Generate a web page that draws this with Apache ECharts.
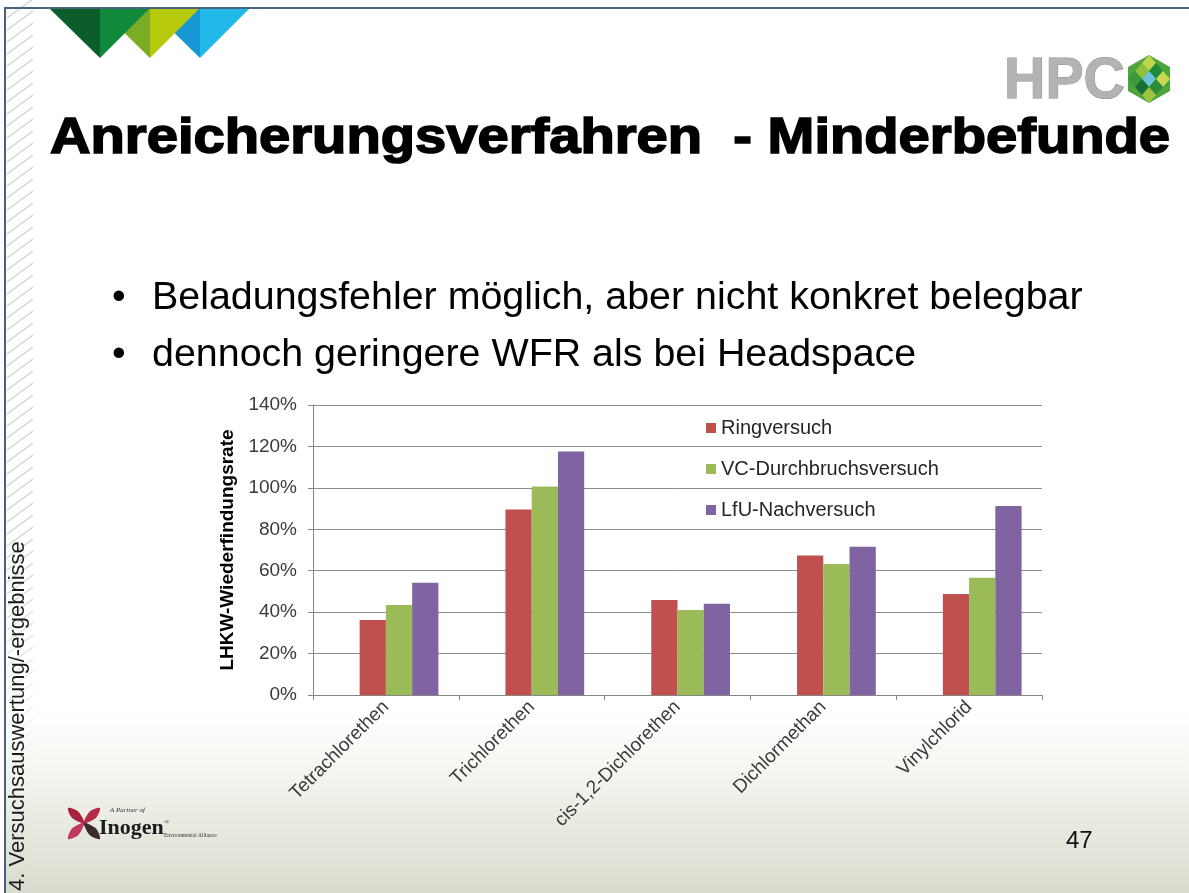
<!DOCTYPE html>
<html>
<head>
<meta charset="utf-8">
<script src="https://cdn.jsdelivr.net/npm/echarts@6/dist/echarts.min.js"></script>
<style>
  html, body { margin: 0; padding: 0; background: #ffffff; }
  #chart { width: 1189px; height: 893px; }
</style>
</head>
<body>
<div id="chart"></div>
<script>
// Substances on the category axis
const categories = ['Tetrachlorethen', 'Trichlorethen', 'cis-1,2-Dichlorethen', 'Dichlormethan', 'Vinylchlorid'];

// Recovery rates in percent, one array per trial
const seriesNames = ['Ringversuch', 'VC-Durchbruchsversuch', 'LfU-Nachversuch'];
const ringversuch = [36.2, 89.6, 45.9, 67.4, 48.8];
const vcDurchbruchsversuch = [43.4, 100.7, 41.0, 63.2, 56.6];
const lfuNachversuch = [54.2, 117.5, 44.1, 71.6, 91.2];

// Value axis ticks
const yTicks = [0, 20, 40, 60, 80, 100, 120, 140];

// Slide texts
const slideTitle = 'Anreicherungsverfahren  - Minderbefunde';
const bullets = [
  'Beladungsfehler möglich, aber nicht konkret belegbar',
  'dennoch geringere WFR als bei Headspace'
];
const sectionLabel = '4. Versuchsauswertung/-ergebnisse';
const pageNumber = '47';

const SANS = '"Liberation Sans", Arial, sans-serif';
const barColors = ['#C0504D', '#9BBB59', '#8064A2'];

const measureCtx = document.createElement('canvas').getContext('2d');
function textWidth(str, font) {
  measureCtx.font = font;
  return measureCtx.measureText(str).width;
}

const graphics = [];

// Soft gradient at the foot of the slide
graphics.push({
  type: 'rect', z: -5, silent: true,
  shape: { x: 6, y: 710, width: 1183, height: 183 },
  style: {
    fill: new echarts.graphic.LinearGradient(0, 0, 0, 1, [
      { offset: 0, color: '#ffffff' },
      { offset: 0.3, color: '#f6f7f2' },
      { offset: 1, color: '#d8dccd' }
    ])
  }
});

// Hatched strip along the left border
for (let y = 18; y <= 905; y += 12) {
  const fade = y < 560 ? 1 : Math.max(0.15, 1 - (y - 560) / 260);
  graphics.push({
    type: 'line', z: -4, silent: true,
    shape: { x1: 7, y1: y, x2: 33, y2: y - 19 },
    style: { stroke: '#d2d2d2', lineWidth: 1.3, opacity: fade }
  });
}

// Slide frame lines
graphics.push({
  type: 'line', z: 5, silent: true,
  shape: { x1: 4, y1: 8, x2: 1189, y2: 8 },
  style: { stroke: '#46627d', lineWidth: 2 }
});
graphics.push({
  type: 'line', z: 5, silent: true,
  shape: { x1: 5, y1: 7, x2: 5, y2: 893 },
  style: { stroke: '#46627d', lineWidth: 2 }
});

// Coloured triangles at the top (each split into a dark and a light half)
const triangles = [
  { cx: 200, dark: '#1696d2', light: '#23b8ea' },
  { cx: 150, dark: '#7aac24', light: '#b7c90d' },
  { cx: 100, dark: '#0b5d29', light: '#0f893a' }
];
triangles.forEach(t => {
  graphics.push({
    type: 'polygon', z: 3, silent: true,
    shape: { points: [[t.cx - 50, 9], [t.cx, 9], [t.cx, 58]] },
    style: { fill: t.dark }
  });
  graphics.push({
    type: 'polygon', z: 3, silent: true,
    shape: { points: [[t.cx, 9], [t.cx + 49, 9], [t.cx, 58]] },
    style: { fill: t.light }
  });
});

// HPC logo: lettering
const hpcFont = 'bold 58px "Liberation Sans"';
const hpcScale = 121 / textWidth('HPC', hpcFont);
graphics.push({
  type: 'text', z: 4, silent: true,
  x: 1004, y: 82, scaleX: hpcScale,
  style: {
    text: 'HPC', font: hpcFont,
    verticalAlign: 'middle', align: 'left',
    fill: '#b3b3b3',
    stroke: '#8f8f8f', lineWidth: 1
  }
});
// HPC logo: tiled hexagon
(function () {
  const cx = 1149, cy = 79, hw = 7, hh = 8;
  graphics.push({
    type: 'polygon', z: 4, silent: true,
    shape: { points: [[cx, cy - 24], [cx + 21, cy - 12], [cx + 21, cy + 12], [cx, cy + 24], [cx - 21, cy + 12], [cx - 21, cy - 12]] },
    style: { fill: '#4ea53c' }
  });
  const tiles = [
    [-1, -1, '#bdd64c'], [-1, 0, '#8fc13d'], [0, -1, '#1f8a3c'],
    [1, -1, '#c8da52'], [-1, 1, '#3a9a3a'], [0, 0, '#6cc4dc'],
    [1, 0, '#2e8b3a'], [0, 1, '#1a6e33'], [1, 1, '#9cc43f']
  ];
  tiles.forEach(([a, b, col]) => {
    const x = cx + (a - b) * hw, y = cy + (a + b) * hh;
    graphics.push({
      type: 'polygon', z: 4, silent: true,
      shape: { points: [[x, y - hh], [x + hw, y], [x, y + hh], [x - hw, y]] },
      style: { fill: col }
    });
  });
})();

// Slide title
const titleFont = 'bold 50px "Liberation Sans"';
const titleScale = 1120 / textWidth(slideTitle, titleFont);
graphics.push({
  type: 'text', z: 4, silent: true,
  x: 50, y: 139, scaleX: titleScale,
  style: {
    text: slideTitle, font: titleFont,
    verticalAlign: 'middle', align: 'left',
    fill: '#000000', stroke: '#000000', lineWidth: 1.6
  }
});

// Bullet points
const bulletY = [298, 355];
bullets.forEach((b, i) => {
  graphics.push({
    type: 'text', z: 4, silent: true, x: 112, y: bulletY[i],
    style: { text: '•', font: '39px "Liberation Sans"', verticalAlign: 'middle', fill: '#000000' }
  });
  graphics.push({
    type: 'text', z: 4, silent: true, x: 152, y: bulletY[i],
    style: { text: b, font: '39.4px "Liberation Sans"', verticalAlign: 'middle', fill: '#000000' }
  });
});

// Vertical section label on the left
graphics.push({
  type: 'text', z: 4, silent: true, x: 18, y: 891, rotation: Math.PI / 2,
  style: { text: sectionLabel, font: '22px "Liberation Sans"', align: 'left', verticalAlign: 'middle', fill: '#1a1a1a' }
});

// Page number
graphics.push({
  type: 'text', z: 4, silent: true, x: 1066, y: 841,
  style: { text: pageNumber, font: '24px "Liberation Sans"', align: 'left', verticalAlign: 'middle', fill: '#111111' }
});

// Partner logo: X mark and lettering
(function () {
  const c = [84, 823];
  const petals = [
    { tip: [68, 808], col: '#a8213f' },
    { tip: [100, 808], col: '#b42c4c' },
    { tip: [68, 839], col: '#c23a5c' },
    { tip: [100, 839], col: '#3b2b31' }
  ];
  petals.forEach(p => {
    const dx = p.tip[0] - c[0], dy = p.tip[1] - c[1];
    const len = Math.hypot(dx, dy);
    const nx = -dy / len * 4.5, ny = dx / len * 4.5;
    const mx = c[0] + dx * 0.55, my = c[1] + dy * 0.55;
    graphics.push({
      type: 'polygon', z: 4, silent: true,
      shape: { points: [c, [mx + nx, my + ny], p.tip, [mx - nx, my - ny]], smooth: 0.3 },
      style: { fill: p.col }
    });
  });
  graphics.push({
    type: 'text', z: 4, silent: true, x: 99, y: 839,
    style: { text: 'Inogen', font: 'bold 22px "Liberation Serif"', verticalAlign: 'bottom', fill: '#1c1c1c' }
  });
  graphics.push({
    type: 'text', z: 4, silent: true, x: 110, y: 814,
    style: { text: 'A Partner of', font: 'italic 7px "Liberation Serif"', verticalAlign: 'bottom', fill: '#333333' }
  });
  graphics.push({
    type: 'text', z: 4, silent: true, x: 164, y: 826,
    style: { text: '®', font: '7px "Liberation Serif"', verticalAlign: 'bottom', fill: '#333333' }
  });
  graphics.push({
    type: 'text', z: 4, silent: true, x: 164, y: 839,
    style: { text: 'Environmental Alliance', font: '5.5px "Liberation Serif"', verticalAlign: 'bottom', fill: '#333333' }
  });
})();

const seriesData = [ringversuch, vcDurchbruchsversuch, lfuNachversuch];

// The workbook has an empty first series slot; it keeps the
// three visible bars shifted right inside each category.
const barSeries = [{
  name: '',
  type: 'bar',
  data: [],
  barGap: '0%',
  barCategoryGap: '28%'
}].concat(seriesNames.map((name, i) => ({
  name: name,
  type: 'bar',
  data: seriesData[i],
  barGap: '0%',
  barCategoryGap: '28%',
  itemStyle: { color: barColors[i] }
})));

const chart = echarts.init(document.getElementById('chart'), null, { renderer: 'canvas' });
chart.setOption({
  animation: false,
  backgroundColor: 'transparent',
  color: ['#ffffff'].concat(barColors),
  textStyle: { fontFamily: SANS },
  graphic: { elements: graphics },
  grid: { left: 313, right: 147, top: 405, bottom: 198, containLabel: false },
  legend: {
    data: seriesNames,
    orient: 'vertical',
    left: 701, top: 413,
    icon: 'rect',
    itemWidth: 10, itemHeight: 10, itemGap: 21,
    textStyle: { fontFamily: SANS, fontSize: 20, lineHeight: 20, color: '#262626' }
  },
  xAxis: {
    type: 'category',
    data: categories,
    axisLine: { lineStyle: { color: '#868686', width: 1 } },
    axisTick: { show: true, length: 5, lineStyle: { color: '#868686' } },
    axisLabel: { rotate: 45, fontSize: 19, color: '#3a3a3a', fontFamily: SANS, margin: 9, interval: 0 }
  },
  yAxis: {
    type: 'value',
    min: yTicks[0], max: yTicks[yTicks.length - 1], interval: yTicks[1] - yTicks[0],
    name: 'LHKW-Wiederfindungsrate',
    nameLocation: 'middle', nameGap: 72,
    nameTextStyle: { fontFamily: SANS, fontSize: 19, fontWeight: 'bold', color: '#000000' },
    axisLine: { show: true, lineStyle: { color: '#868686', width: 1 } },
    axisTick: { show: true, length: 5, lineStyle: { color: '#868686' } },
    splitLine: { lineStyle: { color: '#8c8c8c', width: 1 } },
    axisLabel: { fontSize: 19, color: '#3a3a3a', fontFamily: SANS, margin: 16, formatter: v => v + '%' }
  },
  series: barSeries
});
</script>
</body>
</html>
